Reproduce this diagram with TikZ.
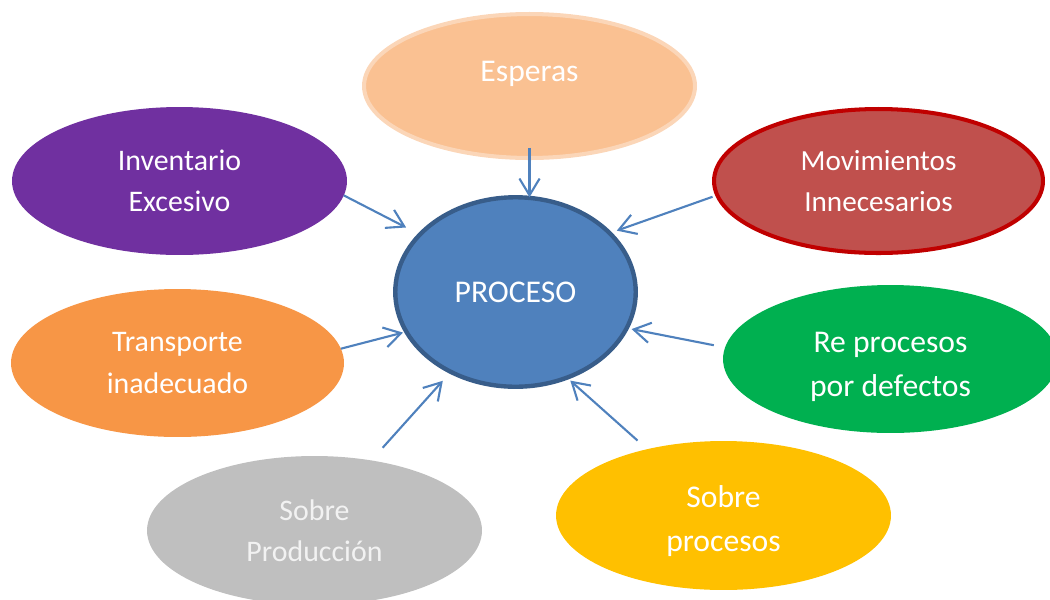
\documentclass[tikz,border=0pt]{standalone}
\usepackage{fontspec}
\setmainfont{Carlito}
\usetikzlibrary{arrows.meta,shapes.geometric}

\definecolor{espfill}{RGB}{250,193,146}
\definecolor{espline}{RGB}{251,214,184}
\definecolor{invfill}{RGB}{112,48,160}
\definecolor{movfill}{RGB}{192,80,77}
\definecolor{movline}{RGB}{192,0,0}
\definecolor{trafill}{RGB}{247,150,70}
\definecolor{repfill}{RGB}{0,176,80}
\definecolor{sopfill}{RGB}{255,192,0}
\definecolor{sprfill}{RGB}{191,191,191}
\definecolor{procfill}{RGB}{79,129,189}
\definecolor{procline}{RGB}{56,93,138}

\begin{document}
\begin{tikzpicture}[x=0.02cm,y=-0.02cm,
    blob/.style={ellipse,inner sep=0pt,outer sep=0pt,align=center,text=white,
        font=\fontsize{18}{25}\selectfont,minimum width=6.7cm,minimum height=2.96cm},
    smalltxt/.style={font=\fontsize{17}{23.5}\selectfont},
    arw/.style={draw=procfill,line width=1.2pt,-{Straight Barb[length=9.5pt,width=11.5pt]}}]
    \useasboundingbox (0,0) rectangle (1050,599);

    \node[blob,fill=espfill,draw=espline,line width=2.3pt,minimum width=6.62cm,minimum height=2.88cm,text depth=17pt] at (529.5,86) (esp) {Esperas};
    \node[blob,smalltxt,fill=invfill] at (179.5,181) (inv) {Inventario\\Excesivo};
    \node[blob,fill=movfill,draw=movline,line width=2.3pt,minimum width=6.58cm,minimum height=2.88cm,font=\fontsize{16.6}{23.5}\selectfont] at (878.5,181) (mov) {Movimientos\\Innecesarios};
    \node[blob,smalltxt,fill=trafill,minimum width=6.66cm] at (177.5,363) (tra) {Transporte\\inadecuado};
    \node[blob,fill=repfill,text height=43pt,text depth=0pt] at (890.5,359) (rep) {Re procesos\\por defectos};
    \node[blob,fill=sopfill,minimum height=2.98cm,text height=40.5pt,text depth=0pt] at (723.5,515.5) (sop) {Sobre\\procesos};
    \node[blob,smalltxt,fill=sprfill,minimum height=2.98cm,text={rgb,255:red,242;green,242;blue,242}] at (314.5,530.5) (spr) {Sobre\\Producción};
    \node[blob,fill=procfill,draw=procline,line width=2.5pt,minimum width=4.81cm,minimum height=3.79cm] at (515.5,292) (proc) {PROCESO};

    \path (esp.south) edge[arw,shorten <=-0.2cm] (esp.south |- proc.north);
    \path (inv.-5.6) edge[arw,shorten >=0.31cm] (proc.149.9);
    \path (mov.185.5) edge[arw,shorten <=0.1cm,shorten >=0.15cm] (proc.32.75);
    \path (tra.5.2) edge[arw,shorten >=0.07cm] (proc.200);
    \path (rep.176.8) edge[arw,shorten <=0.23cm,shorten >=0.1cm] (proc.-18.7);
    \path (spr.51.5) edge[arw,shorten <=0.34cm,shorten >=0.24cm] (proc.231.9);
    \path (sop.139.3) edge[arw,shorten <=0.26cm,shorten >=0.09cm] (proc.-59.7);
\end{tikzpicture}
\end{document}
